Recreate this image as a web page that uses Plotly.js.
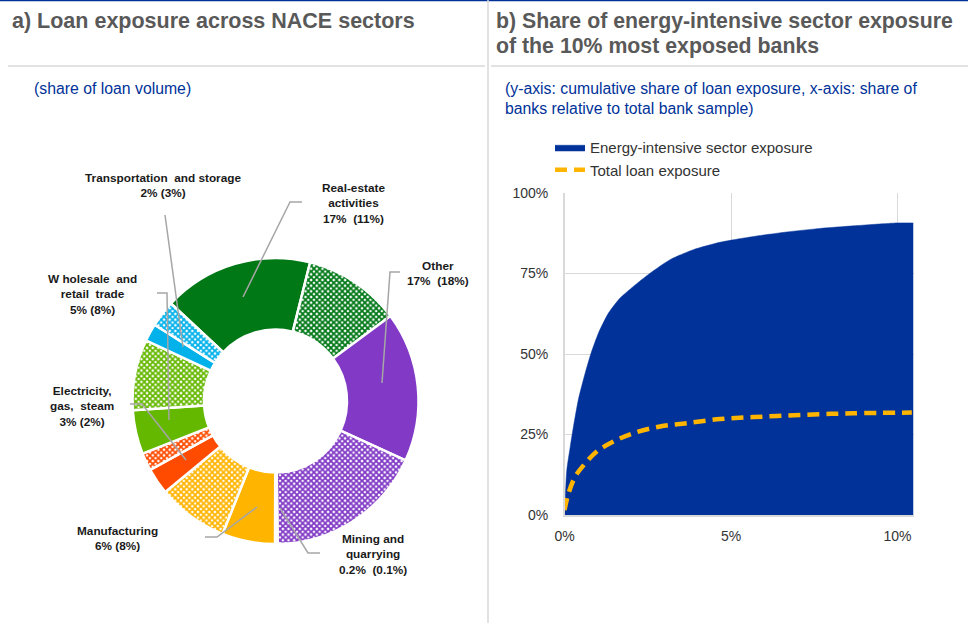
<!DOCTYPE html>
<html>
<head>
<meta charset="utf-8">
<script src="https://cdn.plot.ly/plotly-3.0.1.min.js"></script>
<style>
  html, body { margin: 0; padding: 0; background: #ffffff; }
  #chart { width: 968px; height: 623px; }
</style>
</head>
<body>
<div id="chart"></div>
<script>
// ---------- Panel a: loan exposure across NACE sectors ----------
var sectors = ["Real-estate activities", "Other", "Mining and quarrying", "Manufacturing",
               "Electricity, gas, steam", "Wholesale and retail trade", "Transportation and storage"];
var energyShare = [17, 17, 0.2, 6, 3, 5, 2];     // solid slices (energy-intensive banks)
var totalShare  = [11, 18, 0.1, 8, 2, 8, 3];     // hatched slices (all banks)
var sectorColors = ["#007816", "#8139c6", "#8c8c8c", "#ffb400", "#ff4b00", "#65b800", "#00b1ea"];
var sectorLabelText = [
  "Real-estate<br>activities<br>17%  (11%)",
  "Other<br>17%  (18%)",
  "Mining and<br>quarrying<br>0.2%  (0.1%)",
  "Manufacturing<br>6% (8%)",
  "Electricity,<br>gas,  steam<br>3% (2%)",
  "W holesale  and<br>retail  trade<br>5% (8%)",
  "Transportation  and storage<br>2% (3%)"
];

// ---------- Panel b: cumulative share of loan exposure ----------
var energyX = [0, 0.07, 0.17, 0.27, 0.42, 0.62, 0.79, 1.02, 1.32, 1.67, 2.07, 2.57, 3.17, 3.87, 4.67, 5.68, 6.68, 7.68, 8.68, 9.98, 10.48];
var energyY = [0, 14, 21, 27.5, 36, 44, 50, 56.5, 62.7, 67.4, 71, 75.1, 79.3, 82.4, 84.7, 86.5, 87.9, 89, 89.8, 90.7, 90.7];
var totalX  = [0, 0.12, 0.32, 0.62, 0.97, 1.47, 2.07, 2.87, 3.67, 4.67, 5.68, 6.68, 7.68, 8.68, 10.43];
var totalY  = [1.5, 6.7, 11.9, 16, 19.7, 22.8, 25.4, 27.5, 28.5, 29.8, 30.4, 30.9, 31.3, 31.6, 31.8];
var seriesNames = ["Energy-intensive sector exposure", "Total loan exposure"];

// ---------- build pie slices ----------
var pieLabels = [], pieValues = [], pieColors = [], pieShapes = [];
for (var i = 0; i < sectors.length; i++) {
  pieLabels.push(sectors[i] + " (energy-intensive)");
  pieValues.push(energyShare[i]);
  pieColors.push(sectorColors[i]);
  pieShapes.push("");
  pieLabels.push(sectors[i] + " (total)");
  pieValues.push(totalShare[i]);
  pieColors.push(sectorColors[i]);
  pieShapes.push("x");
}

var W = 968, H = 623;
function px(x) { return x / W; }
function py(y) { return 1 - y / H; }

var FONT = "Liberation Sans, Arial, sans-serif";

var pie = {
  type: "pie",
  labels: pieLabels,
  values: pieValues,
  sort: false,
  direction: "clockwise",
  rotation: -47,
  hole: 0.5,
  textinfo: "none",
  hoverinfo: "label+value",
  showlegend: false,
  marker: {
    colors: pieColors,
    line: { color: "#ffffff", width: 2.5 },
    pattern: {
      shape: pieShapes,
      fgcolor: pieColors,
      bgcolor: "#ffffff",
      fillmode: "replace",
      size: 4,
      solidity: 0.7
    }
  },
  domain: { x: [px(132.5), px(418.5)], y: [py(544), py(258)] }
};

var area = {
  type: "scatter",
  mode: "lines",
  name: seriesNames[0],
  x: energyX,
  y: energyY,
  fill: "tozeroy",
  fillcolor: "#003299",
  line: { color: "#003299", width: 0.5, shape: "spline", smoothing: 0.6 },
  xaxis: "x", yaxis: "y"
};
var line = {
  type: "scatter",
  mode: "lines",
  name: seriesNames[1],
  x: totalX,
  y: totalY,
  line: { color: "#ffb400", width: 4.5, dash: "12px,7px", shape: "spline" },
  xaxis: "x", yaxis: "y"
};

// leader lines for the pie labels
var leaders = [
  [[302, 202], [290, 202], [243, 297]],
  [[400, 272], [390, 272], [382, 383]],
  [[320, 553], [308, 553], [280, 508]],
  [[205, 537], [217, 537], [257, 507]],
  [[130, 404], [142, 404], [186, 460]],
  [[157, 293], [167, 293], [169, 420]],
  [[165, 215], [183, 347]]
];
var labelPos = [
  [353, 203], [438, 273], [373, 554], [117, 538], [82, 406], [92, 295], [163, 185]
];

var shapes = [
  // header lines
  { type: "line", xref: "paper", yref: "paper", x0: 0, x1: 1, y0: py(0.5), y1: py(0.5), line: { color: "#003299", width: 1.5 } },
  { type: "line", xref: "paper", yref: "paper", x0: px(488), x1: px(488), y0: 0, y1: 1, line: { color: "#d9d9d9", width: 1.5 } },
  { type: "line", xref: "paper", yref: "paper", x0: px(8), x1: px(485), y0: py(66), y1: py(66), line: { color: "#d9d9d9", width: 1.5 } },
  { type: "line", xref: "paper", yref: "paper", x0: px(491), x1: 1, y0: py(66), y1: py(66), line: { color: "#d9d9d9", width: 1.5 } }
];
leaders.forEach(function (pts) {
  var path = "M" + pts.map(function (p) { return px(p[0]) + "," + py(p[1]); }).join(" L");
  shapes.push({ type: "path", xref: "paper", yref: "paper", path: path, line: { color: "#a6a6a6", width: 1.5 } });
});

var annotations = [
  { text: "<b>a) Loan exposure across NACE sectors</b>", x: px(10), y: py(21), xanchor: "left", yanchor: "middle",
    font: { family: FONT, size: 21.5, color: "#595959" } },
  { text: "<b>b) Share of energy-intensive sector exposure</b>", x: px(494), y: py(21), xanchor: "left", yanchor: "middle",
    font: { family: FONT, size: 21.3, color: "#595959" } },
  { text: "<b>of the 10% most exposed banks</b>", x: px(494), y: py(46), xanchor: "left", yanchor: "middle",
    font: { family: FONT, size: 21.3, color: "#595959" } },
  { text: "(share of loan volume)", x: px(32), y: py(88), xanchor: "left", yanchor: "middle",
    font: { family: FONT, size: 15.8, color: "#003299" } },
  { text: "(y-axis: cumulative share of loan exposure, x-axis: share of", x: px(503), y: py(88), xanchor: "left", yanchor: "middle",
    font: { family: FONT, size: 15.8, color: "#003299" } },
  { text: "banks relative to total bank sample)", x: px(503), y: py(108), xanchor: "left", yanchor: "middle",
    font: { family: FONT, size: 15.8, color: "#003299" } }
];
for (var k = 0; k < sectorLabelText.length; k++) {
  annotations.push({
    text: "<b>" + sectorLabelText[k] + "</b>",
    x: px(labelPos[k][0]), y: py(labelPos[k][1]),
    xanchor: "center", yanchor: "middle", align: "center",
    font: { family: FONT, size: 11.8, color: "#1a1a1a" }
  });
}
annotations.forEach(function (a) { a.xref = "paper"; a.yref = "paper"; a.showarrow = false; });

var layout = {
  width: W, height: H,
  margin: { l: 0, r: 0, t: 0, b: 0 },
  paper_bgcolor: "#ffffff",
  plot_bgcolor: "#ffffff",
  font: { family: FONT, size: 14, color: "#333333" },
  showlegend: true,
  legend: {
    x: px(550), y: py(131), xanchor: "left", yanchor: "top",
    font: { family: FONT, size: 15, color: "#333333" },
    bgcolor: "rgba(0,0,0,0)", tracegroupgap: 0, itemwidth: 30
  },
  xaxis: {
    domain: [px(564.5), px(913.5)],
    range: [0, 10.48],
    dtick: 5, tick0: 0, ticksuffix: "%",
    showgrid: true, gridcolor: "#d9d9d9", gridwidth: 1,
    showline: true, linecolor: "#d9d9d9", linewidth: 1.5,
    zeroline: false, ticks: "", ticklabelstandoff: 8,
    tickfont: { family: FONT, size: 14, color: "#333333" },
    fixedrange: true
  },
  yaxis: {
    domain: [py(515), py(193)],
    range: [0, 100],
    dtick: 25, tick0: 0, ticksuffix: "%",
    showgrid: true, gridcolor: "#d9d9d9", gridwidth: 1,
    showline: true, linecolor: "#d9d9d9", linewidth: 1.5,
    zeroline: false, ticks: "", ticklabelstandoff: 12,
    tickfont: { family: FONT, size: 14, color: "#333333" },
    fixedrange: true
  },
  shapes: shapes,
  annotations: annotations
};

Plotly.newPlot("chart", [pie, area, line], layout, { staticPlot: true, displayModeBar: false });
</script>
</body>
</html>
